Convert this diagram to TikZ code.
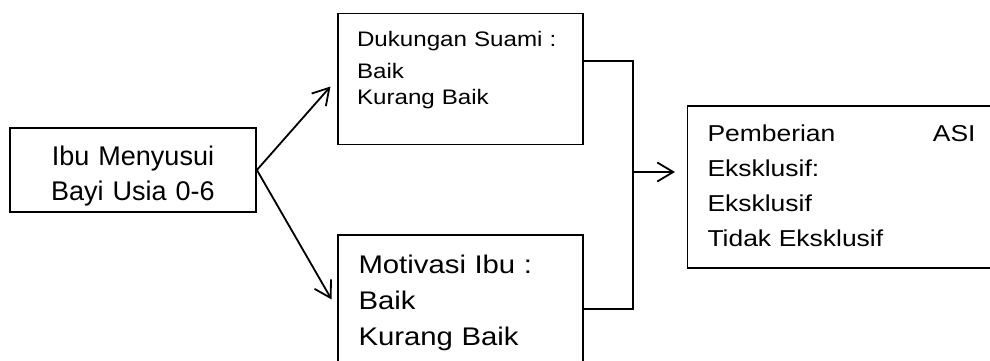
\documentclass[tikz,border=0pt]{standalone}
\usepackage{fontspec}
\setmainfont{Liberation Sans}
\newfontfamily\widefont[FakeStretch=1.15]{Liberation Sans}
\usepackage{tikz}
\usetikzlibrary{arrows.meta,positioning}

\begin{document}
\begin{tikzpicture}[x=1pt, y=-1pt, box/.style={draw, line width=1.8pt, rectangle, inner sep=0pt}, txt/.style={inner sep=0pt, outer sep=0pt}, ln/.style={line width=1.8pt}, arr/.style={line width=1.8pt, -{Straight Barb[length=16pt,width=19pt]}}]
\useasboundingbox (0,0) rectangle (990,361);
\node[box, minimum width=246pt, minimum height=84pt] (ibu) at (133,170) {};
\node[box, minimum width=245pt, minimum height=131pt] (suami) at (460.5,79) {};
\node[box, minimum width=245pt, minimum height=148pt] (motivasi) at (460.5,309) {};
\node[box, minimum width=312.5pt, minimum height=162pt] (asi) at (843.75,187) {};
\node[txt, align=center, text width=240pt, anchor=base, font=\fontsize{27}{35}\selectfont] (ibutxt) at (133,165) {Ibu Menyusui\\Bayi Usia 0-6};
\node[txt, align=left, text width=220pt, anchor=base west, font=\widefont\fontsize{21}{26}\selectfont] (suamitxt) at (357,47) {Dukungan Suami :\\[6pt]Baik\\Kurang Baik};
\node[txt, align=left, text width=220pt, anchor=base west, font=\widefont\fontsize{25.5}{36}\selectfont] (motivasitxt) at (358.5,273) {Motivasi Ibu :\\Baik\\Kurang Baik};
\node[txt, align=left, text width=268pt, anchor=base west, font=\widefont\fontsize{23}{35}\selectfont] (asitxt) at (707.5,141.7) {Pemberian\hfill ASI\\Eksklusif:\\Eksklusif\\Tidak Eksklusif};
\coordinate (jn) at (633,172);
\coordinate (tip) at (675,172);
\draw[arr, shorten >=10pt] (ibu.east) -- (suami.west); \draw[arr, shorten >=11pt] (ibu.east) -- (motivasi.west);
\draw[ln] ([yshift=18pt]suami.east) -| (jn) |- (motivasi.east); \draw[arr] (jn) -- (tip);
\end{tikzpicture}
\end{document}
